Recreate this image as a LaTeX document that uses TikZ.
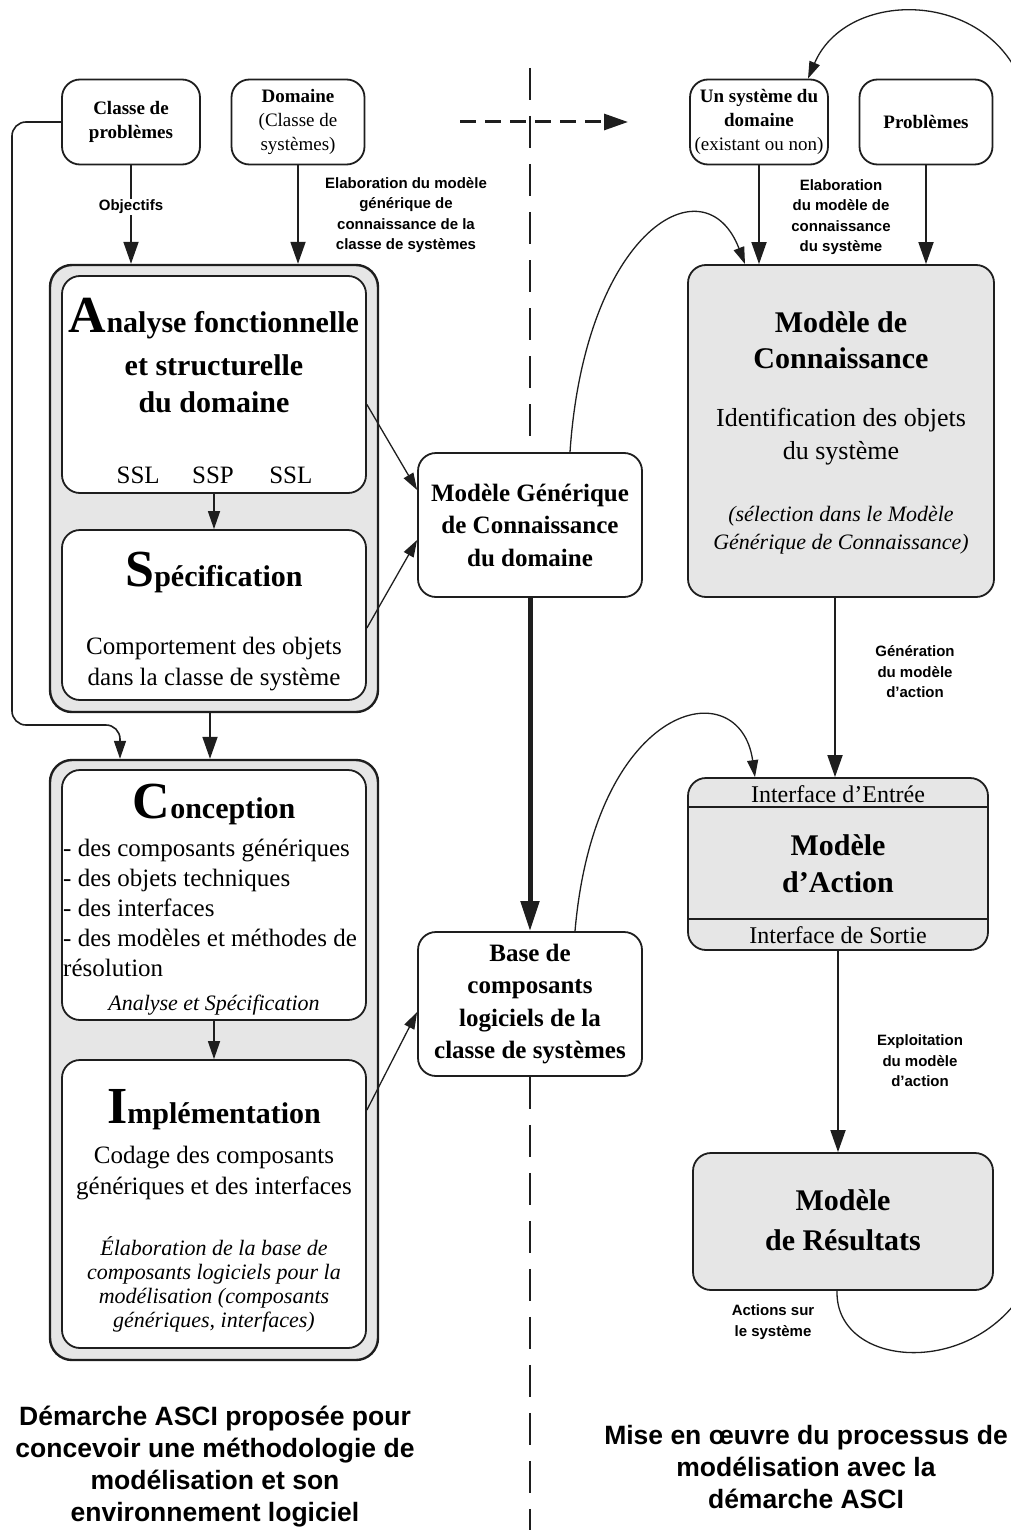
\documentclass[tikz,border=0pt]{standalone}
\usepackage{fontspec}
\setmainfont{Liberation Serif}
\setsansfont{Liberation Sans}
\usetikzlibrary{arrows.meta}
\usetikzlibrary{calc}
\usetikzlibrary{positioning}
\definecolor{linec}{HTML}{1E1E1E}
\definecolor{grayf}{HTML}{E6E6E6}
\newcommand{\setfs}[2]{\fontsize{#1}{#2}\selectfont}
\newcommand{\bigini}[1]{{\setfs{52}{52}#1}}
\tikzset{%
  box/.style={draw=linec, line width=1.8pt, rounded corners=18pt, fill=white},
  gbox/.style={box, fill=grayf},
  grp/.style={draw=linec, line width=2.4pt, rounded corners=22pt, fill=grayf},
  small/.style={font=\setfs{19}{24}, align=center, inner sep=2pt},
  mid/.style={font=\bfseries\setfs{25}{32.5}, align=center},
  ttl/.style={font=\bfseries\setfs{30}{37}, align=center, inner sep=0pt},
  body/.style={font=\setfs{25}{31}, align=center, inner sep=0pt},
  note/.style={font=\itshape\setfs{22}{24}, align=center, inner sep=0pt},
  lbl/.style={font=\sffamily\bfseries\setfs{15}{20.5}, align=center, inner sep=1pt},
  capt/.style={font=\sffamily\bfseries\setfs{26.5}{32}, align=center},
  arr/.style={-{Triangle[length=22pt,width=15pt]}, line width=1.8pt, draw=linec},
  sarr/.style={-{Triangle[length=18pt,width=12pt]}, line width=1.6pt, draw=linec},
  carr/.style={-{Triangle[length=17pt,width=11pt]}, line width=1.3pt, draw=linec},
  bigarr/.style={-{Triangle[length=30pt,width=18pt]}, line width=5pt, draw=linec},
  darr/.style={-{Triangle[length=24pt,width=16pt]}, line width=3pt, draw=linec, dash pattern=on 16pt off 9pt},
  vdash/.style={line width=1.3pt, draw=linec, dash pattern=on 32pt off 16pt}
}
\begin{document}
\begin{tikzpicture}[x=1pt, y=-1pt]
  \path[use as bounding box] (0,0) rectangle (1011,1530);

  % left column
  \node[grp, minimum width=328pt, minimum height=447pt] (grpA) at (214,488.5) {};
  \node[box, minimum width=304pt, minimum height=217pt] (ana) at (214,384.5) {};
  \node[box, minimum width=304pt, minimum height=170pt] (spe) at (214,615) {};
  \node[grp, minimum width=328pt, minimum height=600pt] (grpB) at (214,1060) {};
  \node[box, minimum width=304pt, minimum height=250pt] (con) at (214,895) {};
  \node[box, minimum width=304pt, minimum height=288pt] (imp) at (214,1204) {};

  \node[ttl, anchor=base] (anaT) at (214,332) {\bigini{A}nalyse fonctionnelle};
  \node[ttl] (anaB) at (214,384) {et structurelle\\du domaine};
  \node[body] (ssp) at (213,475) {SSP};
  \node[body, left=32pt of ssp] (sslA) {SSL};
  \node[body, right=35pt of ssp] (sslB) {SSL};
  \node[ttl, anchor=base] (speT) at (214,586) {\bigini{S}pécification};
  \node[body] (speB) at (214,664) {Comportement des objets\\dans la classe de système};
  \node[ttl, anchor=base] (conT) at (214,818) {\bigini{C}onception};
  \node[body, font=\setfs{25}{30}, align=left, anchor=west] (conL) at (63,908)
    {- des composants génériques\\- des objets techniques\\- des interfaces\\- des modèles et méthodes de\\résolution};
  \node[note] (conI) at (214,1005) {Analyse et Spécification};
  \node[ttl, anchor=base] (impT) at (214,1123) {\bigini{I}mplémentation};
  \node[body] (impB) at (214,1173) {Codage des composants\\génériques et des interfaces};
  \node[note] (impI) at (214,1284) {Élaboration de la base de\\composants logiciels pour la\\modélisation (composants\\génériques, interfaces)};

  % top inputs
  \node[box, small, minimum width=138pt, minimum height=85pt] (cls) at (131,122) {\textbf{Classe de}\\\textbf{problèmes}};
  \node[box, small, minimum width=133pt, minimum height=85pt] (dom) at (298,122) {\textbf{Domaine}\\(Classe de\\systèmes)};
  \node[box, small, minimum width=138pt, minimum height=85pt] (sys) at (759,122) {\textbf{Un système du}\\\textbf{domaine}\\(existant ou non)};
  \node[box, small, minimum width=133pt, minimum height=85pt] (pbm) at (926,122) {\textbf{Problèmes}};

  % middle
  \node[box, mid, minimum width=224pt, minimum height=144pt] (mg) at (530,525) {Modèle Générique\\de Connaissance\\du domaine};
  \node[box, mid, minimum width=224pt, minimum height=144pt] (base) at (530,1004) {Base de\\composants\\logiciels de la\\classe de systèmes};
  \coordinate (dtop) at (530,68);
  \coordinate (dbot) at (530,1530);
  \coordinate (da) at (460,122);
  \coordinate (db) at (628,122);

  % right column
  \node[gbox, minimum width=306pt, minimum height=332pt] (kno) at (841,431) {};
  \node[ttl, font=\bfseries\setfs{30}{36}] (knoT) at (841,340) {Modèle de\\Connaissance};
  \node[body, font=\setfs{26}{33}] (knoB) at (841,437) {Identification des objets\\du système};
  \node[note, font=\itshape\setfs{22}{28}] (knoI) at (841,530) {(sélection dans le Modèle\\Générique de Connaissance)};

  \node[gbox, minimum width=300pt, minimum height=172pt] (act) at (838,864) {};
  \draw[line width=1.5pt, draw=linec] ($(act.north west)+(0,30)$) -- ($(act.north east)+(0,30)$);
  \draw[line width=1.5pt, draw=linec] ($(act.south west)+(0,-32)$) -- ($(act.south east)+(0,-32)$);
  \node[body, font=\setfs{24}{28}] (actIn) at (838,794) {Interface d'Entrée};
  \node[ttl] (actT) at (838,864) {Modèle\\d'Action};
  \node[body, font=\setfs{24}{28}] (actOut) at (838,935) {Interface de Sortie};

  \node[gbox, minimum width=300pt, minimum height=137pt] (res) at (843,1221.5) {};
  \node[ttl, font=\bfseries\setfs{30}{40}] (resT) at (843,1220) {Modèle\\de Résultats};

  % labels
  \node[lbl] (lelab) at (406,215) {Elaboration du modèle\\générique de\\connaissance de la\\classe de systèmes};
  \node[lbl] (lkno) at (841,217) {Elaboration\\du modèle de\\connaissance\\du système};
  \node[lbl] (lgen) at (915,672) {Génération\\du modèle\\d'action};
  \node[lbl] (lexp) at (920,1061) {Exploitation\\du modèle\\d'action};
  \node[lbl] (lact) at (773,1322) {Actions sur\\le système};
  \node[capt] (capL) at (215,1467) {Démarche ASCI proposée pour\\concevoir une méthodologie de\\modélisation et son\\environnement logiciel};
  \node[capt] (capR) at (806,1467) {Mise en œuvre du processus de\\modélisation avec la\\démarche ASCI};

  % connectors
  \draw[arr] (cls) -- (cls |- grpA.north) node[lbl, fill=white, pos=0.42] (lobj) {Objectifs};
  \draw[arr] (dom) -- (dom |- grpA.north);
  \draw[sarr] (ana) -- (spe);
  \draw[arr] ([xshift=-4pt]grpA.south) -- ([xshift=-4pt]grpB.north);
  \draw[sarr] (con) -- (imp);
  \draw[sarr, rounded corners=14pt] (cls.west) -| (12,725) -| ([xshift=-94pt]grpB.north);
  \draw[carr] ([yshift=-20pt]ana.east) -- ([yshift=35pt]mg.west);
  \draw[carr] ([yshift=-13pt]spe.east) -- ([yshift=-15pt]mg.west);
  \draw[carr] ([yshift=94pt]imp.east) -- ([yshift=-8pt]base.west);
  \draw[vdash] (dtop) -- (mg);
  \draw[vdash] (base) -- (dbot);
  \draw[bigarr] (mg) -- (base);
  \draw[darr] (da) -- (db);
  \draw[carr] ([xshift=40pt]mg.north) .. controls (585,230) and (705,160) .. ([xshift=-96pt]kno.north);
  \draw[arr] (sys) -- (sys |- kno.north);
  \draw[arr] (pbm) -- (pbm |- kno.north);
  \draw[arr] ([xshift=-6pt]kno.south) -- ([xshift=-6pt]kno.south |- act.north);
  \draw[carr] ([xshift=45pt]base.north) .. controls (595,700) and (740,670) .. ([xshift=-83pt]act.north);
  \draw[arr] (act) -- (act |- res.north);
  \begin{scope}
    \clip (0,0) rectangle (1011,1530);
    \draw[carr] ([xshift=-6pt]res.south) .. controls (835,1370) and (980,1380) .. (1030,1280)
      -- (1030,120) .. controls (1020,-10) and (850,-20) .. ([xshift=49pt]sys.north);
  \end{scope}
\end{tikzpicture}
\end{document}
